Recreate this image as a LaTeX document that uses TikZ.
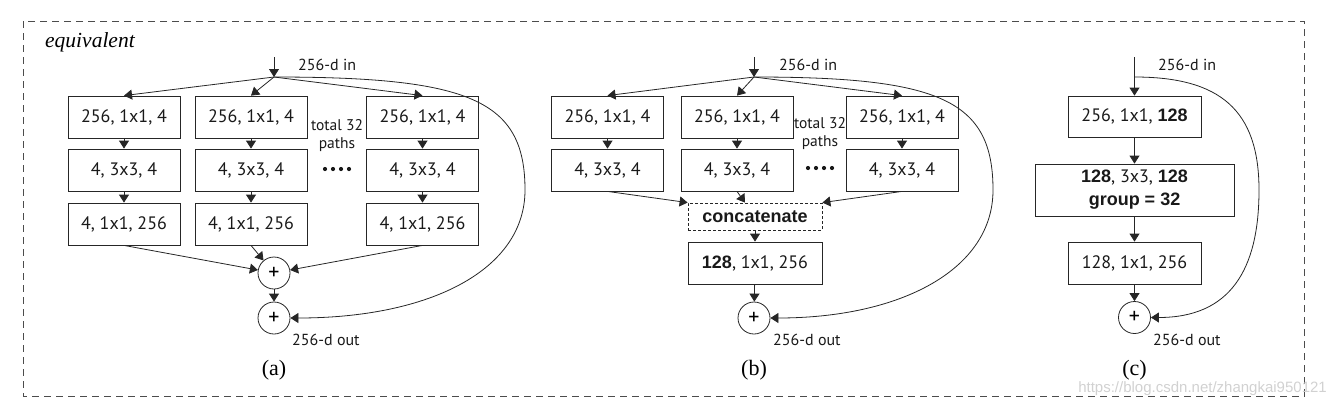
\documentclass[tikz,border=0pt]{standalone}
\usepackage{fontspec}
\setmainfont{PT Sans}
\newfontfamily\lsans{Liberation Sans}
\newfontfamily\tms{Liberation Serif}
\usetikzlibrary{arrows.meta}
\begin{document}
\begin{tikzpicture}[x=1pt,y=-1pt,
  ln/.style={line width=0.8pt,draw=black!85},
  arr/.style={ln,-{Triangle[width=10pt,length=8pt]}},
  box/.style={ln,rectangle,inner sep=0pt,minimum width=112pt,minimum height=42pt,font=\fontsize{18}{20}\selectfont,text=black!90},
  sm/.style={inner sep=0pt,font=\fontsize{16}{18}\selectfont,text=black!90},
  plus/.style={ln,circle,minimum size=32pt,inner sep=0pt,font=\fontsize{22}{22}\selectfont},
  captxt/.style={inner sep=0pt,font=\tms\fontsize{22}{23}\selectfont},
  dot/.style={fill=black!90,draw=none}]
\newcommand{\B}[1]{{\lsans\bfseries #1}}
\useasboundingbox (0,0) rectangle (1327,408);
\draw[line width=0.8pt,draw=black!70,dash pattern=on 7pt off 5pt] (23,21) rectangle (1304,396);
\node[inner sep=0pt,anchor=west,font=\tms\itshape\fontsize{21.5}{23}\selectfont] (eq) at (45,42) {equivalent};

% ---------- (a)
\coordinate (ina) at (274,57);
\coordinate (sa) at (274,77);
\node[sm,anchor=west] (ina-t) at (298,65) {256-d in};
\node[box] (a11) at (124,117) {256, 1x1, 4};
\node[box] (a21) at (251,117) {256, 1x1, 4};
\node[box] (a31) at (422.5,117) {256, 1x1, 4};
\node[box] (a12) at (124,170) {4, 3x3, 4};
\node[box] (a22) at (251,170) {4, 3x3, 4};
\node[box] (a32) at (422.5,170) {4, 3x3, 4};
\node[box] (a13) at (124,224) {4, 1x1, 256};
\node[box] (a23) at (251,224) {4, 1x1, 256};
\node[box] (a33) at (422.5,224) {4, 1x1, 256};
\node[sm,align=center,font=\fontsize{15.5}{18}\selectfont] (atot) at (337,136) {total 32\\paths};
\foreach \i in {0,1,2,3} \fill[dot] (325+8*\i,169) circle (2.1);
\node[plus] (pa1) at (274,273) {+};
\node[plus] (pa2) at (274,318) {+};
\node[sm,anchor=west] (aout) at (292,340) {256-d out};
\node[captxt] (acap) at (274,370) {(a)};
\draw[arr] (ina) -- (sa);
\draw[arr] (sa) -- (a11.north);
\draw[arr] (sa) -- (a21.north);
\draw[arr] (sa) -- (a31.north);
\foreach \c in {1,2,3}{
  \draw[arr] (a\c1) -- (a\c2);
  \draw[arr] (a\c2) -- (a\c3);
}
\draw[arr] (a13.south) -- (pa1);
\draw[arr] (a23.south) -- (pa1);
\draw[arr] (a33.south) -- (pa1);
\draw[arr] (pa1) -- (pa2);
\draw[arr] (sa) .. controls (470,77) and (525,100) .. (525,190) .. controls (525,270) and (430,318) .. (pa2.east);

% ---------- (b)
\coordinate (inb) at (754,57);
\coordinate (sb) at (754,77);
\node[sm,anchor=west] (inb-t) at (779,65) {256-d in};
\node[box] (b11) at (607.5,117) {256, 1x1, 4};
\node[box] (b21) at (737,117) {256, 1x1, 4};
\node[box] (b31) at (902,117) {256, 1x1, 4};
\node[box] (b12) at (607.5,170) {4, 3x3, 4};
\node[box] (b22) at (737,170) {4, 3x3, 4};
\node[box] (b32) at (902,170) {4, 3x3, 4};
\node[sm,align=center,font=\fontsize{15.5}{18}\selectfont] (btot) at (820,134) {total 32\\paths};
\foreach \i in {0,1,2,3} \fill[dot] (808+8*\i,168) circle (2.1);
\node[box,minimum width=134pt,minimum height=27pt,dash pattern=on 3pt off 2pt] (cat) at (755,216.5) {\B{concatenate}};
\node[box,minimum width=134pt] (b4) at (755,263) {\B{128}, 1x1, 256};
\node[plus] (pb) at (754,318) {+};
\node[sm,anchor=west] (bout) at (773,340) {256-d out};
\node[captxt] (bcap) at (754,370) {(b)};
\draw[arr] (inb) -- (sb);
\draw[arr] (sb) -- (b11.north);
\draw[arr] (sb) -- (b21.north);
\draw[arr] (sb) -- (b31.north);
\foreach \c in {1,2,3}{
  \draw[arr] (b\c1) -- (b\c2);
}
\draw[arr] (b12.south) -- (cat.north west);
\draw[arr] (b22.south) -- ([xshift=-10pt]cat.north);
\draw[arr] (b32.south) -- (cat.north east);
\draw[arr] (cat) -- (b4);
\draw[arr] (b4) -- (pb);
\draw[arr] (sb) .. controls (940,77) and (993,100) .. (993,190) .. controls (993,270) and (900,318) .. (pb.east);

% ---------- (c)
\coordinate (inc) at (1134.5,57);
\coordinate (sc) at (1134.5,77);
\node[sm,anchor=west] (inc-t) at (1158,65) {256-d in};
\node[box,minimum width=133pt,minimum height=41pt] (c1) at (1134.5,116.5) {256, 1x1, \B{128}};
\node[box,minimum width=199pt,minimum height=52pt,align=center,font=\fontsize{18}{23}\selectfont] (c2) at (1134.5,190) {\B{128}, 3x3, \B{128}\\\B{group = 32}};
\node[box,minimum width=133pt] (c3) at (1134.5,263) {128, 1x1, 256};
\node[plus] (pc) at (1134.5,317.5) {+};
\node[sm,anchor=west] (cout) at (1153,340) {256-d out};
\node[captxt] (ccap) at (1134.5,370) {(c)};
\draw[arr] (inc) -- (c1);
\draw[arr] (c1) -- (c2);
\draw[arr] (c2) -- (c3);
\draw[arr] (c3) -- (pc);
\draw[arr] (sc) .. controls (1220,77) and (1259,110) .. (1259,190) .. controls (1259,270) and (1230,317.5) .. (pc.east);

\node[inner sep=0pt,anchor=east,text=black!18,font=\lsans\fontsize{15}{16}\selectfont] (wm) at (1327,389) {https://blog.csdn.net/zhangkai950121};
\end{tikzpicture}
\end{document}
